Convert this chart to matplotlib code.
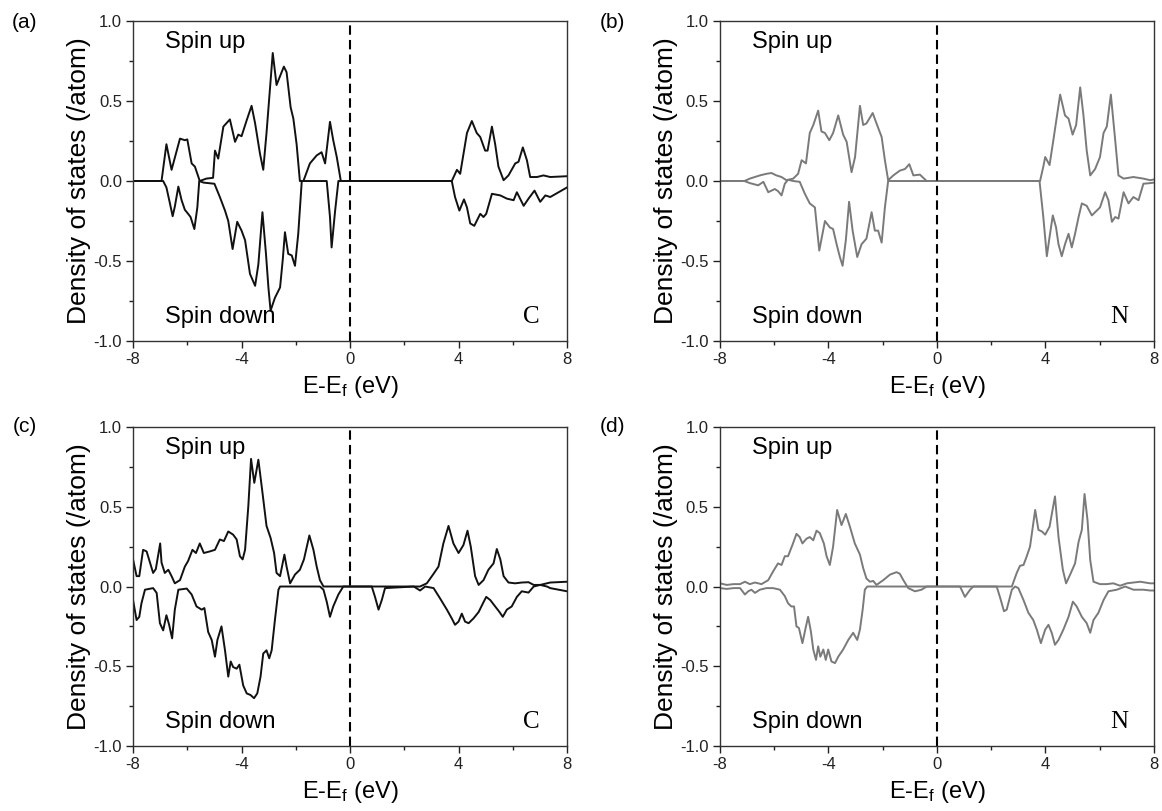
"""
Spin-resolved PDOS of C and N atoms, four panels (a)-(d).
"""

import matplotlib
matplotlib.use("Agg")
import matplotlib.pyplot as plt
from matplotlib.ticker import MultipleLocator

plt.rcParams["font.family"] = ["Liberation Sans", "DejaVu Sans"]
plt.rcParams["mathtext.fontset"] = "custom"
plt.rcParams["mathtext.rm"] = "Liberation Sans"
plt.rcParams["mathtext.it"] = "Liberation Sans"

# ---- data (energy in eV, DOS in states/atom) ----

# (a) C, spin up
a_up_e = [-8, -6.95, -6.77, -6.58, -6.27, -6.09, -6.0, -5.84, -5.72, -5.54, -5.3, -5.05,
          -4.98, -4.86, -4.67, -4.43, -4.24, -4.12, -4.0, -3.81, -3.63, -3.5, -3.32, -3.2,
          -3.08, -2.85, -2.71, -2.44, -2.34, -2.19, -2.09, -1.97, -1.85, -1.72, -1.48,
          -1.23, -1.05, -0.92, -0.74, -0.62, -0.49, -0.34, 3.75, 3.94, 4.06, 4.31, 4.49,
          4.67, 4.8, 4.98, 5.07, 5.23, 5.35, 5.47, 5.66, 5.84, 6.09, 6.21, 6.37, 6.52,
          6.64, 6.89, 7.13, 7.38, 8]
a_up_d = [0, 0, 0.23, 0.07, 0.265, 0.255, 0.26, 0.11, 0.09, 0.0, 0.015, 0.02,
          0.19, 0.14, 0.34, 0.385, 0.245, 0.29, 0.28, 0.38, 0.47, 0.36, 0.17, 0.07,
          0.30, 0.80, 0.60, 0.715, 0.68, 0.46, 0.39, 0.23, 0.0, 0.0, 0.11,
          0.16, 0.18, 0.11, 0.37, 0.255, 0.15, 0, 0, 0.07, 0.045, 0.30, 0.375,
          0.30, 0.275, 0.19, 0.19, 0.34, 0.23, 0.09, 0.005, 0.035, 0.11, 0.12, 0.21, 0.13,
          0.025, 0.025, 0.035, 0.025, 0.03]

# (a) C, spin down
a_dn_e = [-8, -6.89, -6.77, -6.64, -6.54, -6.46, -6.33, -6.21, -6.09, -5.97, -5.88, -5.74,
          -5.63, -5.56, -5.4, -5.0, -4.80, -4.61, -4.49, -4.33, -4.16, -4.0, -3.87, -3.69,
          -3.5, -3.38, -3.23, -3.1, -3.01, -2.93, -2.77, -2.58, -2.48, -2.4, -2.28, -2.15,
          -2.03, -1.91, -1.78, -0.86, -0.74, -0.68, -0.55, -0.43, 3.75, 3.87, 4.03, 4.2,
          4.31, 4.43, 4.58, 4.8, 4.92, 5.02, 5.23, 5.54, 5.78, 6.03, 6.15, 6.4, 6.58, 6.8,
          7.01, 7.2, 7.38, 8]
a_dn_d = [0, 0, -0.04, -0.14, -0.22, -0.16, -0.035, -0.12, -0.18, -0.205, -0.225, -0.30,
          -0.165, 0, -0.01, -0.017, -0.10, -0.185, -0.25, -0.425, -0.255, -0.31, -0.37, -0.58,
          -0.655, -0.52, -0.195, -0.455, -0.665, -0.81, -0.73, -0.665, -0.49, -0.32, -0.455, -0.465,
          -0.53, -0.33, 0, 0, -0.225, -0.415, -0.185, 0, 0, -0.10, -0.185, -0.115,
          -0.165, -0.265, -0.28, -0.205, -0.225, -0.205, -0.08, -0.09, -0.11, -0.12, -0.07, -0.155,
          -0.11, -0.06, -0.13, -0.09, -0.10, -0.04]

# (b) N, spin up
b_up_e = [-8, -7.1, -6.9, -6.53, -6.29, -6.1, -5.92, -5.73, -5.55, -5.3, -5.12, -4.99,
          -4.83, -4.69, -4.56, -4.38, -4.26, -4.13, -3.97, -3.83, -3.64, -3.46, -3.33, -3.15,
          -3.02, -2.84, -2.72, -2.6, -2.37, -2.23, -2.04, -1.92, -1.8, -1.61, -1.37, -1.18,
          -1.02, -0.87, -0.63, -0.38, 3.8, 3.92, 3.99, 4.15, 4.29, 4.54, 4.72, 4.85, 5.0,
          5.13, 5.28, 5.4, 5.52, 5.65, 5.83, 6.01, 6.14, 6.26, 6.41, 6.57, 6.69, 6.88, 7.24,
          7.61, 7.86, 8]
b_up_d = [0, 0, 0.015, 0.035, 0.045, 0.05, 0.035, 0.025, 0.005, 0.015, 0.045, 0.13,
          0.11, 0.30, 0.35, 0.44, 0.31, 0.30, 0.255, 0.30, 0.41, 0.29, 0.245, 0.055,
          0.15, 0.47, 0.35, 0.36, 0.425, 0.36, 0.275, 0.13, 0.005, 0.035, 0.065, 0.075,
          0.105, 0.035, 0.04, 0, 0, 0.09, 0.15, 0.10, 0.255, 0.54, 0.41, 0.39, 0.29,
          0.35, 0.585, 0.41, 0.19, 0.035, 0.075, 0.15, 0.30, 0.34, 0.54, 0.255, 0.035, 0.015, 0.025,
          0.015, 0.005, 0.01]

# (b) N, spin down
b_dn_e = [-8, -7.1, -6.9, -6.59, -6.4, -6.22, -6.1, -5.98, -5.86, -5.73, -5.61, -5.49,
          -5.3, -5.06, -4.87, -4.69, -4.5, -4.34, -4.13, -3.95, -3.83, -3.7, -3.58, -3.48,
          -3.36, -3.24, -3.11, -2.94, -2.78, -2.6, -2.41, -2.29, -2.17, -2.04, -1.92, -1.8,
          3.78, 3.92, 4.05, 4.15, 4.27, 4.39, 4.48, 4.6, 4.72, 4.85, 4.97, 5.09, 5.22, 5.34,
          5.52, 5.71, 5.89, 6.01, 6.2, 6.32, 6.45, 6.57, 6.69, 6.88, 7.06, 7.24, 7.43, 7.61,
          7.86, 8]
b_dn_d = [0, 0, -0.013, -0.027, -0.005, -0.07, -0.06, -0.05, -0.063, -0.09, -0.017, 0.008,
          0, -0.005, -0.08, -0.14, -0.165, -0.435, -0.25, -0.29, -0.30, -0.395, -0.475, -0.53,
          -0.37, -0.13, -0.31, -0.475, -0.395, -0.36, -0.195, -0.31, -0.31, -0.385, -0.165, 0,
          0, -0.225, -0.47, -0.35, -0.215, -0.29, -0.395, -0.47, -0.395, -0.33, -0.415, -0.33, -0.225, -0.14,
          -0.155, -0.215, -0.185, -0.165, -0.07, -0.12, -0.255, -0.225, -0.235, -0.07, -0.14, -0.10, -0.12, -0.017,
          -0.013, -0.01]

# (c) C, spin up
c_up_e = [-8, -7.87, -7.77, -7.63, -7.5, -7.26, -7.16, -7.0, -6.95, -6.83, -6.7, -6.58,
          -6.46, -6.27, -6.09, -5.97, -5.81, -5.68, -5.54, -5.39, -5.17, -4.98, -4.8, -4.65,
          -4.49, -4.31, -4.18, -4.06, -3.96, -3.87, -3.75, -3.65, -3.53, -3.38, -3.23, -3.08,
          -2.93, -2.8, -2.71, -2.58, -2.42, -2.34, -2.21, -2.03, -1.85, -1.7, -1.5, -1.35,
          -1.23, -1.11, -0.98, 2.58, 2.83, 3.08, 3.26, 3.44, 3.63, 3.81, 4.0, 4.18, 4.33, 4.45,
          4.61, 4.74, 4.92, 5.1, 5.29, 5.41, 5.54, 5.66, 5.84, 6.09, 6.33, 6.58, 6.77, 7.01,
          7.26, 7.38, 8]
c_up_d = [0.17, 0.065, 0.065, 0.23, 0.22, 0.085, 0.11, 0.27, 0.15, 0.085, 0.105, 0.065,
          0.02, 0.04, 0.125, 0.16, 0.23, 0.21, 0.27, 0.21, 0.22, 0.23, 0.295, 0.285,
          0.345, 0.325, 0.295, 0.19, 0.17, 0.23, 0.505, 0.80, 0.65, 0.795, 0.59, 0.38,
          0.305, 0.21, 0.085, 0.065, 0.20, 0.125, 0.02, 0.075, 0.105, 0.17, 0.32, 0.23,
          0.125, 0.04, 0, 0, 0.02, 0.08, 0.125, 0.27, 0.38, 0.27, 0.21, 0.26, 0.35, 0.25,
          0.065, 0.01, 0.04, 0.105, 0.145, 0.235, 0.17, 0.065, 0.025, 0.02, 0.025, 0.027, 0.01, 0.01,
          0.0, -0.01, -0.03]

# (c) C, spin down
c_dn_e = [-8, -7.87, -7.77, -7.69, -7.56, -7.26, -7.13, -7.01, -6.89, -6.77, -6.67, -6.56,
          -6.46, -6.33, -6.02, -5.84, -5.66, -5.47, -5.37, -5.23, -5.1, -4.98, -4.89, -4.74,
          -4.61, -4.49, -4.4, -4.31, -4.18, -4.08, -3.94, -3.81, -3.67, -3.54, -3.42, -3.3,
          -3.2, -3.08, -2.98, -2.89, -2.77, -2.64, -2.58, -1.11, -0.98, -0.86, -0.74, -0.62,
          -0.43, -0.25, 0.8, 0.92, 1.05, 1.17, 1.29, 2.35, 2.58, 2.77, 3.08, 3.32, 3.57, 3.75,
          3.87, 4.0, 4.12, 4.24, 4.37, 4.55, 4.74, 4.9, 5.02, 5.17, 5.35, 5.51, 5.63, 5.78,
          5.96, 6.15, 6.33, 6.58, 6.77, 7.01, 7.38, 8]
c_dn_d = [-0.085, -0.21, -0.19, -0.105, -0.02, -0.01, -0.04, -0.23, -0.275, -0.18, -0.24, -0.325,
          -0.145, -0.02, -0.013, -0.05, -0.125, -0.145, -0.135, -0.285, -0.335, -0.44, -0.335, -0.25,
          -0.40, -0.565, -0.47, -0.505, -0.515, -0.49, -0.62, -0.67, -0.68, -0.70, -0.67, -0.565,
          -0.42, -0.40, -0.45, -0.40, -0.21, -0.02, 0, 0, -0.02, -0.095, -0.19, -0.125,
          -0.05, 0, 0, -0.065, -0.145, -0.085, -0.01, 0, -0.025, 0, -0.01, -0.075, -0.145, -0.20,
          -0.24, -0.22, -0.17, -0.22, -0.23, -0.20, -0.16, -0.105, -0.065, -0.085, -0.125, -0.16, -0.19, -0.145,
          -0.125, -0.065, -0.03, -0.038, 0, 0.01, 0.025, 0.03]

# (d) N, spin up
d_up_e = [-8, -7.75, -7.5, -7.26, -7.08, -6.9, -6.71, -6.47, -6.22, -6.04, -5.86, -5.73,
          -5.61, -5.49, -5.33, -5.18, -5.06, -4.96, -4.81, -4.69, -4.56, -4.44, -4.32, -4.17,
          -4.07, -3.95, -3.83, -3.68, -3.52, -3.36, -3.21, -3.03, -2.84, -2.72, -2.6, -2.47,
          -2.35, -2.23, -1.98, -1.73, -1.49, -1.37, -1.24, -1.06, -0.81, -0.57, -0.38, 2.76,
          2.94, 3.06, 3.19, 3.31, 3.43, 3.62, 3.74, 3.87, 3.99, 4.15, 4.35, 4.48, 4.64, 4.76,
          4.91, 5.09, 5.22, 5.34, 5.44, 5.55, 5.65, 5.77, 6.01, 6.26, 6.5, 6.75, 7.0, 7.24,
          7.49, 7.86, 8]
d_up_d = [0.02, 0.01, 0.015, 0.015, 0.03, 0.015, 0.025, 0.015, 0.04, 0.095, 0.145, 0.135,
          0.19, 0.19, 0.26, 0.33, 0.31, 0.27, 0.30, 0.31, 0.29, 0.35, 0.335, 0.27,
          0.19, 0.135, 0.25, 0.48, 0.385, 0.455, 0.375, 0.27, 0.20, 0.115, 0.05, 0.03,
          0.035, 0.01, 0.04, 0.075, 0.09, 0.08, 0.04, -0.01, -0.03, -0.02, 0, 0,
          0.085, 0.13, 0.135, 0.19, 0.25, 0.48, 0.355, 0.345, 0.325, 0.375, 0.565, 0.31, 0.105, 0.02,
          0.075, 0.145, 0.28, 0.355, 0.58, 0.415, 0.165, 0.03, 0.015, 0.015, 0.02, 0.005, 0.02, 0.025,
          0.03, 0.02, 0.02]

# (d) N, spin down
d_dn_e = [-8, -7.75, -7.5, -7.26, -7.08, -6.96, -6.84, -6.71, -6.53, -6.29, -6.04, -5.79,
          -5.61, -5.49, -5.37, -5.27, -5.18, -5.09, -4.96, -4.83, -4.75, -4.65, -4.56, -4.46,
          -4.38, -4.3, -4.19, -4.1, -4.01, -3.89, -3.76, -3.64, -3.46, -3.27, -3.09, -2.94,
          -2.84, -2.74, -2.66, -2.57, 0.85, 1.03, 1.22, 1.34, 2.2, 2.32, 2.47, 2.57, 2.76,
          2.88, 3.0, 3.19, 3.37, 3.55, 3.68, 3.83, 3.99, 4.11, 4.23, 4.35, 4.48, 4.66, 4.85,
          5.01, 5.15, 5.34, 5.52, 5.65, 5.77, 5.95, 6.14, 6.32, 6.63, 6.94, 7.24, 7.61, 7.86, 8]
d_dn_d = [-0.01, -0.015, -0.01, -0.01, -0.05, -0.03, -0.02, -0.04, -0.02, -0.01, -0.01, -0.02,
          -0.06, -0.105, -0.125, -0.125, -0.25, -0.26, -0.355, -0.25, -0.19, -0.28, -0.395, -0.46,
          -0.375, -0.44, -0.395, -0.46, -0.395, -0.47, -0.48, -0.44, -0.395, -0.335, -0.29, -0.335,
          -0.27, -0.145, -0.02, 0, 0, -0.065, -0.02, 0, 0, -0.065, -0.155, -0.145, -0.02,
          0, -0.01, -0.085, -0.165, -0.21, -0.27, -0.355, -0.27, -0.24, -0.29, -0.365, -0.335, -0.27, -0.19,
          -0.095, -0.125, -0.19, -0.23, -0.29, -0.21, -0.165, -0.085, -0.03, -0.02, 0, -0.02, -0.02, -0.025, -0.025]

panels = [
    ("(a)", "C", "#111111", a_up_e, a_up_d, a_dn_e, a_dn_d),
    ("(b)", "N", "#7a7a7a", b_up_e, b_up_d, b_dn_e, b_dn_d),
    ("(c)", "C", "#111111", c_up_e, c_up_d, c_dn_e, c_dn_d),
    ("(d)", "N", "#7a7a7a", d_up_e, d_up_d, d_dn_e, d_dn_d),
]

# axes rectangles in figure fractions (left, bottom, width, height)
rects = [
    (0.1145, 0.5795, 0.3735, 0.3946),
    (0.6196, 0.5795, 0.3735, 0.3946),
    (0.1145, 0.0801, 0.3735, 0.3934),
    (0.6196, 0.0801, 0.3735, 0.3934),
]
tags_xy = [(0.0215, 0.972), (0.527, 0.972), (0.0215, 0.474), (0.527, 0.474)]

fig = plt.figure(figsize=(11.62, 8.11), dpi=100)

for (tag, elem, col, ue, ud, de, dd), rect, txy in zip(panels, rects, tags_xy):
    ax = fig.add_axes(rect)
    ax.plot(ue, ud, color=col, lw=1.4)
    ax.plot(de, dd, color=col, lw=1.4)
    ax.axvline(0, color="black", lw=1.5, linestyle=(0, (4.5, 2.5)))

    ax.set_xlim(-8, 8)
    ax.set_ylim(-1.0, 1.0)
    ax.xaxis.set_minor_locator(MultipleLocator(2))
    ax.yaxis.set_minor_locator(MultipleLocator(0.25))
    ax.set_xticks([-8, -4, 0, 4, 8])
    ax.set_xticklabels(["-8", "-4", "0", "4", "8"])
    ax.set_yticks([-1.0, -0.5, 0.0, 0.5, 1.0])
    ax.set_yticklabels(["-1.0", "-0.5", "0.0", "0.5", "1.0"])
    ax.tick_params(which="major", direction="out", length=5, width=1, pad=3,
                   labelsize=12, colors="#222222")
    ax.tick_params(which="minor", direction="out", length=3, width=1, colors="#222222")
    for sp in ax.spines.values():
        sp.set_linewidth(1.0)
        sp.set_color("#333333")

    ax.set_xlabel("E-E$_\\mathrm{f}$ (eV)", fontsize=17, labelpad=5)
    ax.set_ylabel("Density of states (/atom)", fontsize=19, labelpad=2)

    ax.text(-6.82, 0.87, "Spin up", fontsize=17, va="center", ha="left")
    ax.text(-6.82, -0.85, "Spin down", fontsize=17, va="center", ha="left")
    ax.text(6.7, -0.85, elem, fontsize=18, va="center", ha="center",
            family="Liberation Serif")

    fig.text(txy[0], txy[1], tag, fontsize=15, ha="center", va="center")

plt.savefig("out.png", dpi=100)
